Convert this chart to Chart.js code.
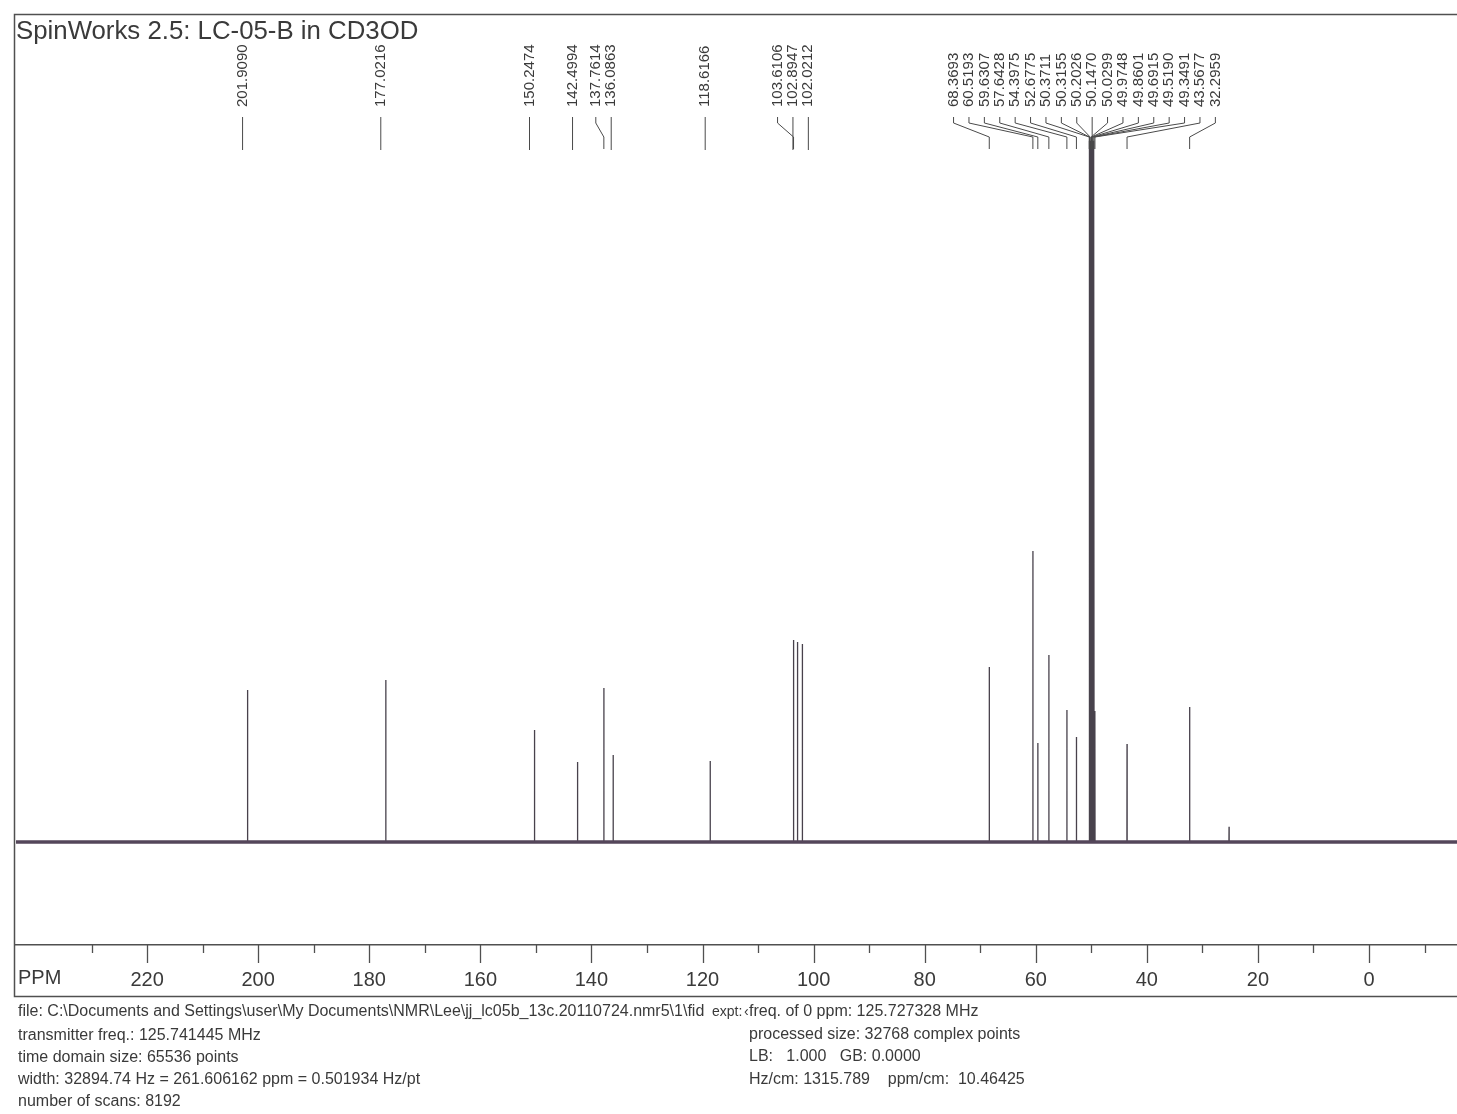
<!DOCTYPE html>
<html>
<head>
<meta charset="utf-8">
<script src="https://cdn.jsdelivr.net/npm/chart.js@4.4.1/dist/chart.umd.min.js"></script>
<style>
  html, body { margin: 0; background: #fff; }
  canvas { display: block; }
</style>
</head>
<body>
<canvas id="nmr" width="1457" height="1114"></canvas>
<script>
const title = 'SpinWorks 2.5: LC-05-B in CD3OD';

// peak shifts (ppm) and heights (% of the 60.52 ppm line); solvent lines run off scale
const peakPpm = [201.9090, 177.0216, 150.2474, 142.4994, 137.7614, 136.0863, 118.6166,
  103.6106, 102.8947, 102.0212, 68.3693, 60.5193, 59.6307, 57.6428, 54.3975, 52.6775,
  50.3711, 50.3155, 50.2026, 50.1470, 50.0299, 49.9748, 49.8601, 49.6915, 49.5190, 49.3491,
  43.5677, 32.2959, 25.2];
const peakHeight = [52.2, 55.7, 38.5, 27.5, 52.9, 29.9, 27.8,
  69.4, 68.7, 68.0, 60.1, 100, 34.0, 64.3, 45.4, 36.1,
  45, 241, 241, 241, 241, 241, 241, 241, 241, 45,
  33.7, 46.4, 5.2];
// the last small line is not labelled in the printout
const peakLabelled = peakPpm.map((p, i) => i < peakPpm.length - 1);

const tickLabels = [220, 200, 180, 160, 140, 120, 100, 80, 60, 40, 20, 0];

const footerLeft = [
  'file: C:\\Documents and Settings\\user\\My Documents\\NMR\\Lee\\jj_lc05b_13c.20110724.nmr5\\1\\fid',
  'transmitter freq.: 125.741445 MHz',
  'time domain size: 65536 points',
  'width: 32894.74 Hz = 261.606162 ppm = 0.501934 Hz/pt',
  'number of scans: 8192'
];
const footerRight = [
  'freq. of 0 ppm: 125.727328 MHz',
  'processed size: 32768 complex points',
  'LB:   1.000   GB: 0.0000',
  'Hz/cm: 1315.789    ppm/cm:  10.46425'
];

const X_MIN = -15.84;
const X_MAX = 243.6;
const HALF = 0.02;
const FONT = 'Liberation Sans, Arial, sans-serif';
const INK = '#3a3a3a';

// build the trace from the peak list
const order = peakPpm.map((p, i) => i).sort((a, b) => peakPpm[b] - peakPpm[a]);
const trace = [{ x: X_MAX, y: 0 }];
order.forEach(i => {
  const p = peakPpm[i];
  trace.push({ x: p + HALF, y: 0 }, { x: p, y: peakHeight[i] }, { x: p - HALF, y: 0 });
});
trace.push({ x: X_MIN, y: 0 });

function spreadLabels(xs, gap) {
  let groups = xs.map(x => ({ lo: x, hi: x, n: 1 }));
  const start = g => (g.lo + g.hi) / 2 - (g.n - 1) * gap / 2;
  let merged = true;
  while (merged) {
    merged = false;
    for (let i = 0; i < groups.length - 1; i++) {
      const a = groups[i], b = groups[i + 1];
      if (start(a) + a.n * gap > start(b)) {
        groups.splice(i, 2, { lo: Math.min(a.lo, b.lo), hi: Math.max(a.hi, b.hi), n: a.n + b.n });
        merged = true;
        break;
      }
    }
  }
  const out = [];
  groups.forEach(g => { for (let k = 0; k < g.n; k++) out.push(start(g) + k * gap); });
  return out;
}

const printout = {
  id: 'printout',
  afterDraw(chart) {
    const { ctx, chartArea } = chart;
    const xs = chart.scales.x;
    const axisY = chartArea.bottom;
    ctx.save();

    // frame
    ctx.strokeStyle = '#505050';
    ctx.lineWidth = 1.5;
    ctx.beginPath();
    ctx.moveTo(1460, 14.5); ctx.lineTo(14.5, 14.5); ctx.lineTo(14.5, 996.5); ctx.lineTo(1460, 996.5);
    ctx.stroke();

    // ppm ticks
    ctx.lineWidth = 1.3;
    xs.ticks.forEach(t => {
      if (t.value > 230) return;
      const px = Math.round(xs.getPixelForValue(t.value)) + 0.5;
      ctx.beginPath();
      ctx.moveTo(px, axisY);
      ctx.lineTo(px, axisY + (t.value % 20 === 0 ? 18 : 8));
      ctx.stroke();
    });

    ctx.fillStyle = INK;
    ctx.font = '20px ' + FONT;
    ctx.textBaseline = 'top';
    ctx.textAlign = 'left';
    ctx.fillText('PPM', 18, 968);

    ctx.font = '25.8px ' + FONT;
    ctx.textBaseline = 'alphabetic';
    ctx.fillText(title, 16, 39);

    // peak labels
    const idx = peakPpm.map((p, i) => i).filter(i => peakLabelled[i])
      .sort((a, b) => peakPpm[b] - peakPpm[a]);
    const peakX = idx.map(i => xs.getPixelForValue(peakPpm[i]));
    const labelX = spreadLabels(peakX.map(x => x - 5), 15.4);
    ctx.strokeStyle = '#4a4a4a';
    ctx.lineWidth = 1;
    idx.forEach((i, k) => {
      const lx = labelX[k], px = peakX[k];
      ctx.beginPath();
      if (Math.abs(lx - px) < 6) {
        ctx.moveTo(lx, 117); ctx.lineTo(lx, 150);
      } else {
        ctx.moveTo(lx, 117); ctx.lineTo(lx, 123); ctx.lineTo(px, 137); ctx.lineTo(px, 149);
      }
      ctx.stroke();
      ctx.save();
      ctx.translate(lx, 107);
      ctx.rotate(-Math.PI / 2);
      ctx.font = '15px ' + FONT;
      ctx.textAlign = 'left';
      ctx.textBaseline = 'middle';
      ctx.fillText(peakPpm[i].toFixed(4), 0, 0);
      ctx.restore();
    });

    // acquisition parameters
    ctx.font = '16px ' + FONT;
    ctx.textBaseline = 'middle';
    const leftY = [1012, 1036, 1058, 1080, 1102];
    const rightY = [1012, 1035, 1057, 1080];
    footerLeft.forEach((s, k) => ctx.fillText(s, 18, leftY[k]));
    footerRight.forEach((s, k) => ctx.fillText(s, 749, rightY[k]));
    ctx.font = '14px ' + FONT;
    ctx.fillText('expt:', 712, 1012);
    ctx.fillText('\u2039', 744, 1012);
    ctx.restore();
  }
};

new Chart(document.getElementById('nmr'), {
  type: 'line',
  data: {
    datasets: [
      {
        label: 'baseline',
        data: [{ x: X_MAX, y: 0 }, { x: X_MIN, y: 0 }],
        borderColor: '#54465a',
        borderWidth: 3.6,
        pointRadius: 0
      },
      {
        label: '13C',
        data: trace,
        borderColor: '#48424c',
        borderWidth: 1.3,
        pointRadius: 0
      }
    ]
  },
  options: {
    responsive: false,
    animation: false,
    parsing: false,
    layout: { padding: { left: 16, top: 15, right: 0, bottom: 119 } },
    plugins: { legend: { display: false }, tooltip: { enabled: false } },
    elements: { line: { tension: 0 } },
    scales: {
      x: {
        type: 'linear',
        reverse: true,
        min: X_MIN,
        max: X_MAX,
        grid: { display: false, drawTicks: false },
        border: { display: true, color: '#505050', width: 1.5 },
        ticks: {
          stepSize: 10,
          includeBounds: false,
          autoSkip: false,
          maxRotation: 0,
          padding: 23,
          color: INK,
          font: { family: FONT, size: 20 },
          callback: v => tickLabels.includes(v) ? String(v) : ''
        },
        afterFit: s => { s.height = 50; }
      },
      y: { display: false, min: -35.4, max: 284.2 }
    }
  },
  plugins: [printout]
});
</script>
</body>
</html>
